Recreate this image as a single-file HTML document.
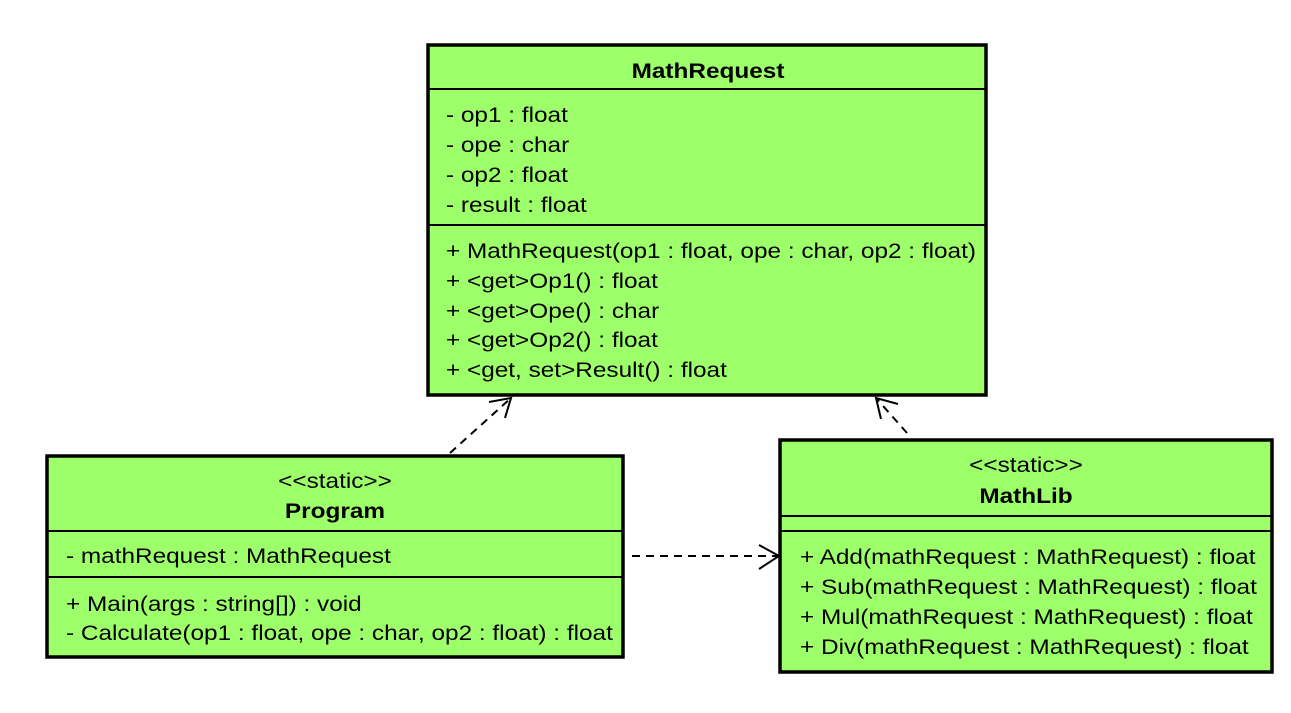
<!DOCTYPE html>
<html><head><meta charset="utf-8"><style>
html,body{margin:0;padding:0;background:#fff;}
svg{display:block;font-family:"Liberation Sans",Arial,sans-serif;}
text{font-size:21px;fill:#000;}
.b{font-weight:bold;}
</style></head><body>
<svg width="1291" height="713" viewBox="0 0 1291 713">
<g fill="#9dff69" stroke="#000" stroke-width="3.5">
<rect x="428" y="45" width="558" height="350"/>
<rect x="47" y="456" width="576" height="201"/>
<rect x="780" y="440" width="492" height="232"/>
</g>
<g stroke="#000" stroke-width="2">
<line x1="428" y1="89" x2="986" y2="89"/>
<line x1="428" y1="225" x2="986" y2="225"/>
<line x1="47" y1="531" x2="623" y2="531"/>
<line x1="47" y1="577" x2="623" y2="577"/>
<line x1="780" y1="516" x2="1272" y2="516"/>
<line x1="780" y1="531" x2="1272" y2="531"/>
</g>
<g stroke="#000" stroke-width="2" fill="none">
<line x1="450" y1="453" x2="511" y2="398" stroke-dasharray="8,6"/>
<polyline points="489,402 511,398 505,418"/>
<line x1="907" y1="433" x2="876" y2="398" stroke-dasharray="8,6"/>
<polyline points="898,404 876,398 881,419"/>
<line x1="632" y1="556" x2="778" y2="556" stroke-dasharray="8,6"/>
<polyline points="759,545 779,556 759,569"/>
</g>
<g transform="translate(708,0) scale(1.16,1)"><text class="b" x="0" y="78" text-anchor="middle">MathRequest</text></g>
<g transform="translate(446,0) scale(1.16,1)">
<text x="0" y="122">- op1 : float</text>
<text x="0" y="152">- ope : char</text>
<text x="0" y="182">- op2 : float</text>
<text x="0" y="212">- result : float</text>
<text x="0" y="258">+ MathRequest(op1 : float, ope : char, op2 : float)</text>
<text x="0" y="288">+ &lt;get&gt;Op1() : float</text>
<text x="0" y="318">+ &lt;get&gt;Ope() : char</text>
<text x="0" y="347">+ &lt;get&gt;Op2() : float</text>
<text x="0" y="377">+ &lt;get, set&gt;Result() : float</text>
</g>
<g transform="translate(335,0) scale(1.16,1)">
<text x="0" y="488" text-anchor="middle">&lt;&lt;static&gt;&gt;</text>
<text class="b" x="0" y="518" text-anchor="middle">Program</text>
</g>
<g transform="translate(66,0) scale(1.16,1)">
<text x="0" y="563">- mathRequest : MathRequest</text>
<text x="0" y="611">+ Main(args : string[]) : void</text>
<text x="0" y="640">- Calculate(op1 : float, ope : char, op2 : float) : float</text>
</g>
<g transform="translate(1026,0) scale(1.16,1)">
<text x="0" y="472" text-anchor="middle">&lt;&lt;static&gt;&gt;</text>
<text class="b" x="0" y="503" text-anchor="middle">MathLib</text>
</g>
<g transform="translate(800,0) scale(1.16,1)">
<text x="0" y="564">+ Add(mathRequest : MathRequest) : float</text>
<text x="0" y="594">+ Sub(mathRequest : MathRequest) : float</text>
<text x="0" y="624">+ Mul(mathRequest : MathRequest) : float</text>
<text x="0" y="654">+ Div(mathRequest : MathRequest) : float</text>
</g>
</svg>
</body></html>
